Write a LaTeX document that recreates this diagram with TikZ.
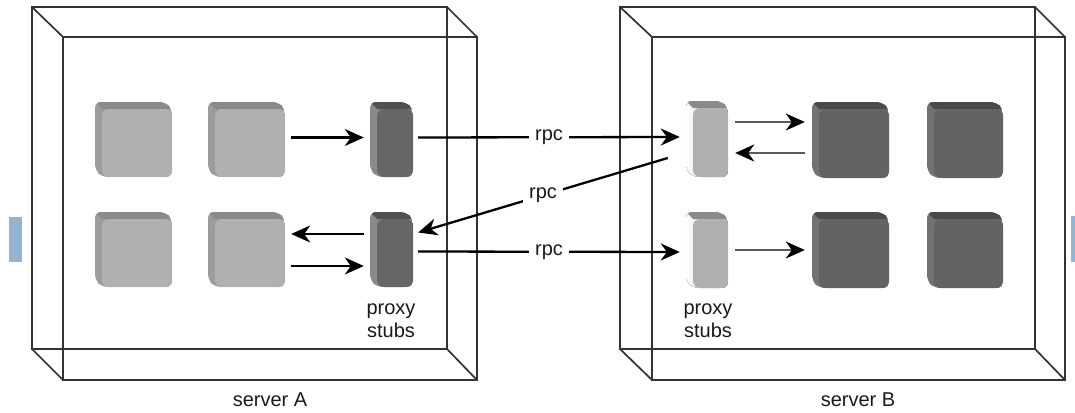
\documentclass[tikz,border=0pt]{standalone}
\usepackage{fontspec}
\setmainfont{Liberation Sans}
\usetikzlibrary{arrows.meta,fit}
\definecolor{lface}{HTML}{B0B0B0}
\definecolor{ltop}{HTML}{8A8A8A}
\definecolor{lside}{HTML}{9C9C9C}
\definecolor{dface}{HTML}{636363}
\definecolor{dtop}{HTML}{4A4A4A}
\definecolor{dside}{HTML}{727272}
\definecolor{paface}{HTML}{666666}
\definecolor{patop}{HTML}{505050}
\definecolor{paside}{HTML}{8A8A8A}
\definecolor{boxline}{HTML}{333333}
\definecolor{txt}{HTML}{1A1A1A}
\definecolor{blbar}{HTML}{94B4D2}
\definecolor{garrow}{HTML}{5A5A5A}
% #1 name, #2 x0, #3 y0, #4 x1, #5 y1, #6 face, #7 top, #8 side fill options
\newcommand\boxcube[8]{%
  \begin{scope}
    \clip[rounded corners=6pt] (#2,#3) -- (#4-7,#3) -- (#4,#3+7) -- (#4,#5) -- (#2+7,#5) -- (#2,#5-7) -- cycle;
    \fill[#8] (#2,#3) rectangle (#4,#5);
    \fill[#7] (#2,#3) -- (#4-7,#3) -- (#4,#3+7) -- (#2+7,#3+7) -- cycle;
  \end{scope}
  \fill[#6, rounded corners=7pt] (#2+7,#3+7) rectangle (#4,#5);
  \node[fit={(#2,#3) (#4,#5)}, inner sep=0pt] (#1) {};
}
\tikzset{
  arr/.style={line width=2.3pt, draw=black, -{Stealth[length=19pt,width=17pt,inset=6pt]}},
  garr/.style={line width=2.6pt, draw=garrow, -{Stealth[length=19pt,width=17pt,inset=6pt,black]}},
  frame/.style={draw=boxline, line width=1.7pt},
  lbl/.style={text=txt, font=\fontsize{20}{23}\selectfont, inner sep=0pt, align=center},
  rpclbl/.style={fill=white, text=txt, font=\fontsize{20}{23}\selectfont, inner sep=6pt},
}
\begin{document}
\begin{tikzpicture}[x=1pt,y=-1pt]
\useasboundingbox (0,0) rectangle (1075,412);
\fill[white] (0,0) rectangle (1075,412);
% side bars
\fill[blbar] (9,217) rectangle (22,262);
\fill[blbar] (1071,216) rectangle (1075,262);
% server A frame
\node[frame, fit={(63,37) (477,380)}, inner sep=0pt] (srvA) {};
\draw[frame] (32,7) rectangle (447,349);
\draw[frame] (32,7) -- (63,37);
\draw[frame] (447,7) -- (477,37);
\draw[frame] (32,349) -- (63,380);
\draw[frame] (447,349) -- (477,380);
% server B frame
\node[frame, fit={(652,37) (1065,380)}, inner sep=0pt] (srvB) {};
\draw[frame] (620,7) rectangle (1035,349);
\draw[frame] (620,7) -- (652,37);
\draw[frame] (1035,7) -- (1065,37);
\draw[frame] (620,349) -- (652,380);
\draw[frame] (1035,349) -- (1065,380);
% server A components
\boxcube{cA11}{95}{102}{172}{177}{lface}{ltop}{lside}
\boxcube{cA12}{208}{102}{285}{177}{lface}{ltop}{lside}
\boxcube{pA1}{370}{102}{413}{177}{paface}{patop}{paside}
\boxcube{cA21}{95}{212}{172}{287}{lface}{ltop}{lside}
\boxcube{cA22}{208}{212}{285}{287}{lface}{ltop}{lside}
\boxcube{pA2}{370}{212}{413}{287}{paface}{patop}{paside}
% server B components
\boxcube{pB1}{686}{101}{728}{177}{lface}{ltop}{left color=white, right color=lface}
\boxcube{cB11}{812}{102}{889}{178}{dface}{dtop}{dside}
\boxcube{cB12}{927}{102}{1003}{178}{dface}{dtop}{dside}
\boxcube{pB2}{686}{212}{728}{288}{lface}{ltop}{left color=white, right color=lface}
\boxcube{cB21}{812}{212}{889}{288}{dface}{dtop}{dside}
\boxcube{cB22}{927}{212}{1003}{288}{dface}{dtop}{dside}
% labels
\node[lbl] (lpA) at (391,321) {proxy\\stubs};
\node[lbl] (lpB) at (708,321) {proxy\\stubs};
\node[lbl] (lsA) at (270,400) {server A};
\node[lbl] (lsB) at (858,400) {server B};
% arrows in server A
\draw[arr] ([xshift=6pt,yshift=2pt]cA12.east) -- ([xshift=-6pt,yshift=2pt]pA1.west);
\draw[arr] ([xshift=-6pt,yshift=15.5pt]pA2.west) -- ([xshift=6pt,yshift=15.5pt]cA22.east);
\draw[arr] ([xshift=6pt,yshift=-16.5pt]cA22.east) -- ([xshift=-6pt,yshift=-16.5pt]pA2.west);
% rpc arrows
\draw[arr] ([xshift=5pt,yshift=2pt]pA1.east) -- node[rpclbl] (rpc1) {rpc} ([xshift=-6pt,yshift=2pt]pB1.west);
\draw[arr] ([xshift=-18pt,yshift=-19pt]pB1.west) -- node[rpclbl] (rpc2) {rpc} ([xshift=5pt,yshift=17pt]pA2.east);
\draw[arr] ([xshift=5pt,yshift=-2pt]pA2.east) -- node[rpclbl] (rpc3) {rpc} ([xshift=-6pt,yshift=-2pt]pB2.west);
% arrows in server B
\draw[garr] ([xshift=7pt,yshift=17pt]pB1.east) -- ([xshift=-7pt,yshift=18pt]cB11.west);
\draw[garr] ([xshift=-7pt,yshift=-13pt]cB11.west) -- ([xshift=7pt,yshift=-14pt]pB1.east);
\draw[garr] ([xshift=7pt,yshift=0pt]pB2.east) -- ([xshift=-7pt,yshift=0pt]cB21.west);
\end{tikzpicture}
\end{document}
